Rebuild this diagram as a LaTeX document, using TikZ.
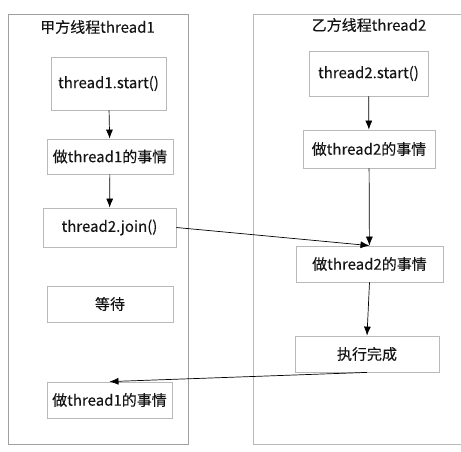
\documentclass[tikz,border=0pt]{standalone}
\usepackage{fontspec}
\setmainfont{Noto Sans CJK SC}[FakeBold=0.15]
\usetikzlibrary{arrows.meta}
\definecolor{lanegray}{RGB}{160,160,160}
\definecolor{boxgray}{RGB}{185,185,185}
\definecolor{txt}{RGB}{20,20,20}

\begin{document}
\begin{tikzpicture}[x=1pt, y=-1pt,
    every node/.style={font=\fontsize{15}{17}\selectfont, text=txt},
    task/.style={draw=boxgray, line width=0.8pt, rectangle, inner sep=0pt},
    flow/.style={-{Latex[length=9pt,width=7pt]}, line width=0.7pt, black}]
    \useasboundingbox (0,0) rectangle (461,451);

    % Lanes
    \draw[lanegray, line width=0.8pt] (8,14) rectangle (188,444);
    \draw[boxgray, line width=0.8pt] (461,14) -- (253,14) -- (253,444) -- (461,444);
    \node (title1) at (97.5,27) {甲方线程thread1};
    \node (title2) at (369,25) {乙方线程thread2};

    % Thread 1
    \node[task, minimum width=115, minimum height=53] (a1) at (108.5,83.5) {thread1.start()};
    \node[task, minimum width=126, minimum height=35] (a2) at (110,156.5) {做thread1的事情};
    \node[task, minimum width=133, minimum height=39] (a3) at (109.5,227.5) {thread2.join()};
    \node[task, minimum width=126, minimum height=36] (a4) at (110,304) {等待};
    \node[task, minimum width=125, minimum height=36] (a5) at (109.5,400) {做thread1的事情};

    % Thread 2
    \node[task, minimum width=119, minimum height=45] (b1) at (368.5,73.5) {thread2.start()};
    \node[task, minimum width=132, minimum height=38] (b2) at (369,149) {做thread2的事情};
    \node[task, minimum width=147, minimum height=36] (b3) at (369.5,264) {做thread2的事情};
    \node[task, minimum width=144, minimum height=36] (b4) at (367,354) {执行完成};

    % Arrows
    \draw[flow] (a1) -- (a2);
    \draw[flow] (a2) -- (a3);
    \draw[flow] (b1) -- (b2);
    \draw[flow] (b2) -- (b3);
    \draw[flow] (a3.east) -- (b3.north);
    \draw[flow] (b3.south) -- (b4.north);
    \draw[flow] (b4.south) -- (a5.north);
\end{tikzpicture}
\end{document}
